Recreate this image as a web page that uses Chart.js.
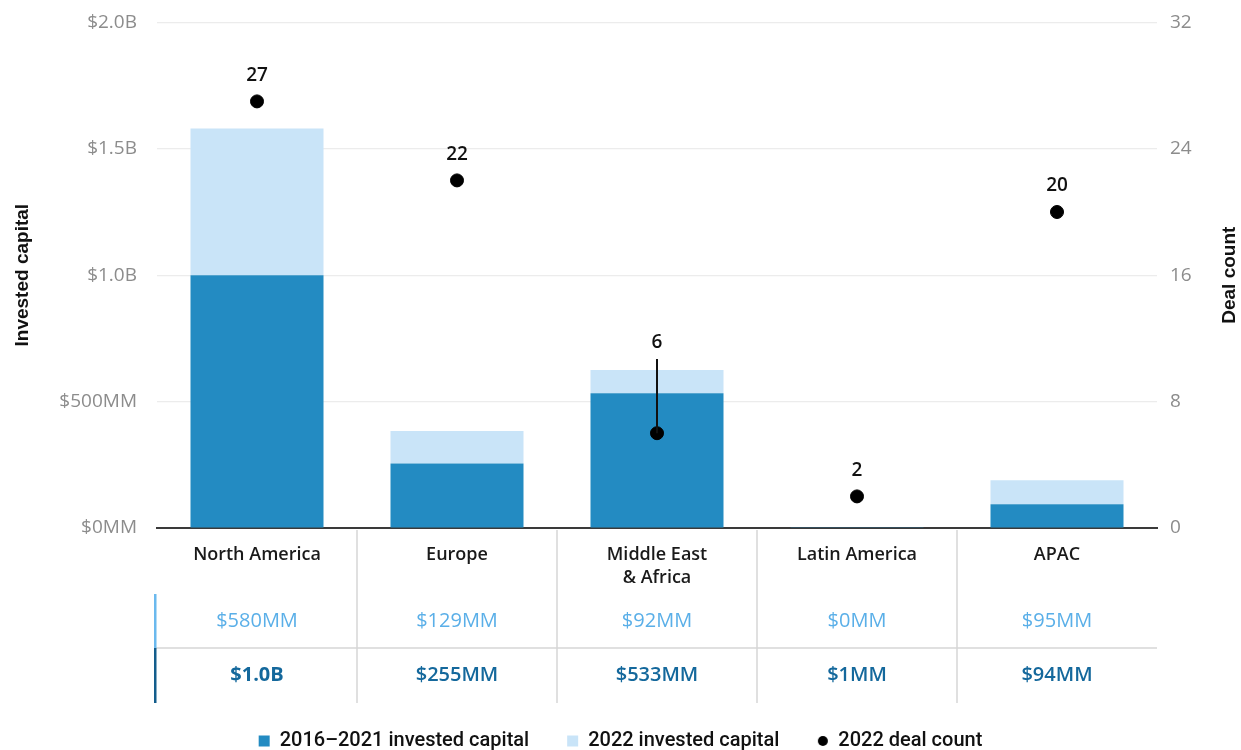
<!DOCTYPE html>
<html lang="en">
<head>
<meta charset="UTF-8">
<title>Invested capital and deal count by region</title>
<script src="https://cdn.jsdelivr.net/npm/chart.js@4.4.0/dist/chart.umd.min.js"></script>
<style>
    html, body { margin: 0; padding: 0; background: #fff; }
    .chart-container { position: relative; width: 1241px; height: 750px; }
</style>
</head>
<body>
<div class="chart-container"><canvas id="regionChart"></canvas></div>
<script>
    // values in $MM, deal counts as numbers
    const regions = ['North America', 'Europe', ['Middle East', '& Africa'], 'Latin America', 'APAC'];
    const capital2016to2021 = [1000, 255, 533, 1, 94];
    const capital2022 = [580, 129, 92, 0, 95];
    const dealCount2022 = [27, 22, 6, 2, 20];
    const capitalTicks = [0, 500, 1000, 1500, 2000];
    const dealTicks = [0, 8, 16, 24, 32];

    const DARK = '#238bc2';
    const LIGHT = '#c9e4f8';
    const LIGHT_TEXT = '#5aafe8';
    const DARK_TEXT = '#14689c';
    const MAIN_FONT = '"Open Sans", "Noto Sans", sans-serif';

    function money(v) {
        return v >= 1000 ? '$' + (v / 1000).toFixed(1) + 'B' : '$' + v + 'MM';
    }

    // small black dot used as the legend symbol for the deal count
    const legendDot = document.createElement('canvas');
    legendDot.width = 12;
    legendDot.height = 12;
    const dctx = legendDot.getContext('2d');
    dctx.fillStyle = '#000';
    dctx.beginPath();
    dctx.arc(6, 6, 5, 0, Math.PI * 2);
    dctx.fill();

    const tablePlugin = {
        id: 'regionTable',
        afterDatasetsDraw(chart) {
            const ctx = chart.ctx;
            const dots = chart.getDatasetMeta(2).data;
            const tops = chart.getDatasetMeta(1).data;
            ctx.save();
            ctx.font = '600 19px ' + MAIN_FONT;
            ctx.fillStyle = '#111';
            ctx.strokeStyle = '#111';
            ctx.lineWidth = 2;
            ctx.textAlign = 'center';
            ctx.textBaseline = 'middle';
            dots.forEach((pt, i) => {
                const barTop = tops[i].y;
                let labelY = pt.y - 26;
                if (pt.y > barTop) {
                    // dot sits inside the bar: lift the label above it with a leader line
                    labelY = barTop - 27;
                    ctx.beginPath();
                    ctx.moveTo(pt.x, pt.y);
                    ctx.lineTo(pt.x, barTop - 11);
                    ctx.stroke();
                }
                ctx.fillText(String(dealCount2022[i]), pt.x, labelY);
            });
            ctx.restore();
        },
        afterDraw(chart) {
            const ctx = chart.ctx;
            const area = chart.chartArea;
            const x = chart.scales.x;
            const colW = (area.right - area.left) / regions.length;
            const lightRow = area.bottom + 93;
            const sepY = area.bottom + 120;
            const darkRow = area.bottom + 147;
            const endY = area.bottom + 175;

            ctx.save();
            ctx.strokeStyle = '#d6d6d6';
            ctx.lineWidth = 1.5;
            for (let i = 1; i < regions.length; i++) {
                const bx = area.left + i * colW;
                ctx.beginPath();
                ctx.moveTo(bx, area.bottom + 2);
                ctx.lineTo(bx, endY);
                ctx.stroke();
            }
            ctx.beginPath();
            ctx.moveTo(area.left - 2, sepY);
            ctx.lineTo(area.right, sepY);
            ctx.stroke();

            ctx.fillStyle = '#6bb9ee';
            ctx.fillRect(area.left - 3, lightRow - 27, 2.5, sepY - lightRow + 27);
            ctx.fillStyle = '#135d8c';
            ctx.fillRect(area.left - 3, sepY, 2.5, endY - sepY);

            ctx.textAlign = 'center';
            ctx.textBaseline = 'middle';
            regions.forEach((r, i) => {
                const cx = x.getPixelForValue(i);
                ctx.font = '400 20px ' + MAIN_FONT;
                ctx.fillStyle = LIGHT_TEXT;
                ctx.fillText(money(capital2022[i]), cx, lightRow);
                ctx.font = (i === 0 ? '700' : '600') + ' 20px ' + MAIN_FONT;
                ctx.fillStyle = DARK_TEXT;
                ctx.fillText(money(capital2016to2021[i]), cx, darkRow);
            });

            // right axis title reads bottom to top
            ctx.translate(1230, (area.top + area.bottom) / 2);
            ctx.rotate(-Math.PI / 2);
            ctx.font = 'bold 19px "Liberation Sans", Arial, sans-serif';
            ctx.fillStyle = '#111';
            ctx.fillText('Deal count', 0, 0);
            ctx.restore();
        }
    };

    const ctx = document.getElementById('regionChart').getContext('2d');
    new Chart(ctx, {
        type: 'bar',
        data: {
            labels: regions,
            datasets: [
                {
                    label: '2016\u20132021 invested capital',
                    data: capital2016to2021,
                    backgroundColor: DARK,
                    borderWidth: 0,
                    yAxisID: 'y',
                    order: 2
                },
                {
                    label: '2022 invested capital',
                    data: capital2022,
                    backgroundColor: LIGHT,
                    borderWidth: 0,
                    yAxisID: 'y',
                    order: 2
                },
                {
                    type: 'line',
                    label: '2022 deal count',
                    data: dealCount2022,
                    yAxisID: 'y1',
                    showLine: false,
                    pointRadius: 6.5,
                    pointHoverRadius: 6.5,
                    backgroundColor: '#000',
                    borderColor: '#000',
                    order: 1
                }
            ]
        },
        options: {
            responsive: true,
            maintainAspectRatio: false,
            animation: false,
            categoryPercentage: 1,
            barPercentage: 0.665,
            layout: { padding: { top: 22, left: 0, right: 0, bottom: -11 } },
            plugins: {
                tooltip: { enabled: false },
                legend: {
                    position: 'bottom',
                    labels: {
                        usePointStyle: true,
                        boxWidth: 11,
                        boxHeight: 11,
                        padding: 38,
                        color: '#111',
                        font: { family: 'Roboto, sans-serif', size: 20, weight: '500' },
                        generateLabels(chart) {
                            const items = Chart.defaults.plugins.legend.labels.generateLabels(chart);
                            items.sort((a, b) => a.datasetIndex - b.datasetIndex);
                            items.forEach(it => {
                                it.pointStyle = it.datasetIndex === 2 ? legendDot : 'rect';
                            });
                            return items;
                        }
                    }
                }
            },
            scales: {
                x: {
                    stacked: true,
                    grid: { display: false, drawTicks: false },
                    border: { display: true, color: '#3a3a3a', width: 2 },
                    ticks: {
                        padding: 15,
                        color: '#1a1a1a',
                        font: { family: MAIN_FONT, size: 18, weight: '600', lineHeight: 1.3 }
                    },
                    afterFit(scale) { scale.height = 165; }
                },
                y: {
                    stacked: true,
                    position: 'left',
                    min: 0,
                    max: 2000,
                    afterBuildTicks(scale) { scale.ticks = capitalTicks.map(v => ({ value: v })); },
                    afterFit(scale) { scale.width = 157; },
                    grid: {
                        drawTicks: true,
                        tickLength: 9,
                        tickColor: 'rgba(0,0,0,0)',
                        lineWidth: 1.2,
                        color: c => c.tick && c.tick.value === 0 ? 'rgba(0,0,0,0)' : '#ececec'
                    },
                    border: { display: false },
                    ticks: {
                        padding: 11,
                        color: '#8c8c8c',
                        font: { family: MAIN_FONT, size: 19 },
                        callback: v => money(v)
                    },
                    title: {
                        display: true,
                        text: 'Invested capital',
                        color: '#111',
                        padding: { top: 11, bottom: 0 },
                        font: { family: '"Liberation Sans", Arial, sans-serif', size: 19, weight: 'bold' }
                    }
                },
                y1: {
                    position: 'right',
                    min: 0,
                    max: 32,
                    afterBuildTicks(scale) { scale.ticks = dealTicks.map(v => ({ value: v })); },
                    afterFit(scale) { scale.width = 84; },
                    grid: { display: false, drawTicks: true, tickLength: 5, tickColor: 'rgba(0,0,0,0)' },
                    border: { display: false },
                    ticks: {
                        padding: 8,
                        color: '#8c8c8c',
                        font: { family: MAIN_FONT, size: 19 }
                    }
                }
            }
        },
        plugins: [tablePlugin]
    });
</script>
</body>
</html>
